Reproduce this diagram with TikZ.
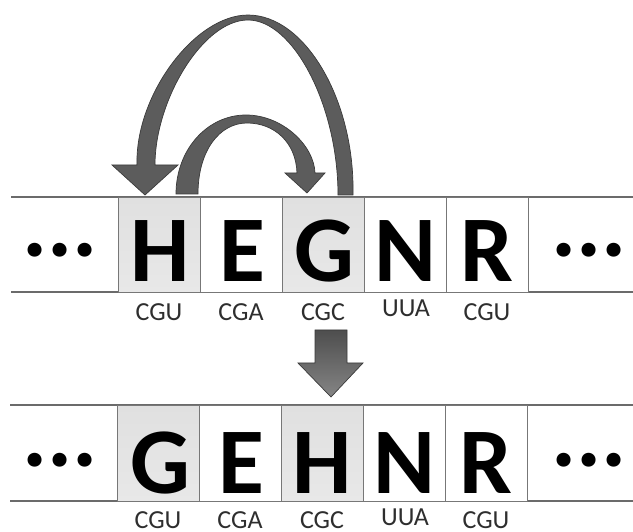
\documentclass[tikz,border=0pt]{standalone}
\usepackage{fontspec}
\setmainfont{Carlito}
\definecolor{rowline}{HTML}{6B6B6B}
\definecolor{cellline}{HTML}{777777}
\definecolor{hltop}{HTML}{E0E0E0}
\definecolor{hlmid}{HTML}{BBBBBB}
\definecolor{hlbot}{HTML}{E8E8E8}
\definecolor{arrowgray}{HTML}{5C5C5C}
\definecolor{arrowedge}{HTML}{3A3A3A}
\definecolor{downtop}{HTML}{4E4E4E}
\definecolor{downbot}{HTML}{858585}
\definecolor{labelgray}{HTML}{2E2E2E}
\begin{document}
\begin{tikzpicture}[x=1pt,y=-1pt,
  rowl/.style={draw=rowline, line width=1.1pt},
  cell/.style={draw=cellline, line width=0.9pt, minimum width=82pt, minimum height=95pt, inner sep=0pt, anchor=north west, fill=white},
  hl/.style={cell, top color=hltop, middle color=hlmid, bottom color=hlbot},
  letter/.style={font=\bfseries\fontsize{94}{94}\selectfont, inner sep=0pt, anchor=base},
  dots/.style={font=\bfseries\fontsize{94}{94}\selectfont, inner sep=0pt, anchor=base},
  codon/.style={font=\fontsize{26}{26}\selectfont, text=labelgray, inner sep=0pt, anchor=base},
  arrowshape/.style={fill=arrowgray, draw=arrowedge, line width=0.7pt, line join=miter}]
\useasboundingbox (0,0) rectangle (633,532);

% ---------- top row ----------
\coordinate (tl1) at (11,197); \coordinate (tr1) at (633,197);
\coordinate (tl2) at (11,292); \coordinate (tr2) at (633,292);
\draw[rowl] (tl1) -- (tr1);
\draw[rowl] (tl2) -- (tr2);
\node[hl]   (t1) at (118,197) {};
\node[cell] (t2) at (200,197) {};
\node[hl]   (t3) at (282,197) {};
\node[cell] (t4) at (364,197) {};
\node[cell] (t5) at (446,197) {};
\node[letter] (tH) at (160,282) {H};
\node[letter] (tE) at (242,282) {E};
\node[letter] (tG) at (324,282) {G};
\node[letter] (tN) at (405,282) {N};
\node[letter] (tR) at (487,282) {R};
\node[dots] (tdl) at (60,257) {...};
\node[dots] (tdr) at (589,257) {...};
\node[codon] (tc1) at (159,320) {CGU};
\node[codon] (tc2) at (241,320) {CGA};
\node[codon] (tc3) at (323,320) {CGC};
\node[codon] (tc4) at (406,317) {UUA};
\node[codon] (tc5) at (487,320) {CGU};

% ---------- bottom row ----------
\coordinate (bl1) at (10,405); \coordinate (br1) at (633,405);
\coordinate (bl2) at (10,501); \coordinate (br2) at (633,501);
\draw[rowl] (bl1) -- (br1);
\draw[rowl] (bl2) -- (br2);
\node[hl,minimum height=96pt]   (b1) at (117,405) {};
\node[cell,minimum height=96pt] (b2) at (199,405) {};
\node[hl,minimum height=96pt]   (b3) at (281,405) {};
\node[cell,minimum height=96pt] (b4) at (363,405) {};
\node[cell,minimum height=96pt] (b5) at (445,405) {};
\node[letter] (bG) at (160,493) {G};
\node[letter] (bE) at (241,493) {E};
\node[letter] (bH) at (322,493) {H};
\node[letter] (bN) at (404,493) {N};
\node[letter] (bR) at (486,493) {R};
\node[dots] (bdl) at (60,466) {...};
\node[dots] (bdr) at (589,466) {...};
\node[codon] (bc1) at (158,528) {CGU};
\node[codon] (bc2) at (240,528) {CGA};
\node[codon] (bc3) at (322,528) {CGC};
\node[codon] (bc4) at (405,525) {UUA};
\node[codon] (bc5) at (486,528) {CGU};

% ---------- big arc: G -> H ----------
\path[arrowshape]
  (353,195) .. controls (355,100) and (305,15) .. (248,15)
  .. controls (195,15) and (135,95) .. (137,165)
  -- (112,165) -- (145,195) -- (178,165) -- (155,165)
  .. controls (155,100) and (203,20) .. (248,20)
  .. controls (293,20) and (338,105) .. (338,195) -- cycle;

% ---------- small arc: H -> G ----------
\path[arrowshape]
  (176,194) .. controls (176,150) and (207,115) .. (246,115)
  .. controls (282,115) and (314,145) .. (315,173)
  -- (325,173) -- (307,193) -- (285,173) -- (297,173)
  .. controls (296,142) and (274,123) .. (247,123)
  .. controls (220,123) and (198,150) .. (198,194) -- cycle;

% ---------- down arrow ----------
\shade[draw=arrowedge, line width=0.7pt, top color=downtop, bottom color=downbot]
  (315,330) -- (347,330) -- (347,363) -- (363,363) -- (331,397) -- (298,363) -- (315,363) -- cycle;
\end{tikzpicture}
\end{document}
